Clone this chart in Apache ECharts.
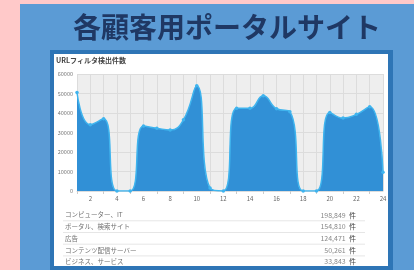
<!DOCTYPE html>
<html><head><meta charset="utf-8">
<script src="https://cdn.jsdelivr.net/npm/echarts@6/dist/echarts.min.js"></script>
<style>html,body{margin:0;padding:0;background:#ffc9c9;}#c{width:414px;height:270px;}</style>
</head><body><div id="c"></div>
<script>
const hours = ['1','2','3','4','5','6','7','8','9','10','11','12','13','14','15','16','17','18','19','20','21','22','23','24'];
const detections = [50500,34000,37000,0,0,33300,32200,31300,36500,54000,1500,0,42400,42400,48900,42200,40700,0,0,40300,37400,39300,43200,9600];
const yTicks = [0,10000,20000,30000,40000,50000,60000];
const categoryNames = ['コンピューター、IT','ポータル、検索サイト','広告','コンテンツ配信サーバー','ビジネス、サービス'];
const categoryCounts = [198849,154810,124471,50261,33843];
const pageTitle = '各顧客用ポータルサイト';
const chartTitle = 'URLフィルタ検出件数';

const chart = echarts.init(document.getElementById('c'), null, {renderer:'canvas'});
const font = '"Noto Sans CJK JP", "Noto Sans", sans-serif';

const graphics = [
  {type:'rect', z:-10, shape:{x:20,y:4,width:394,height:266}, style:{fill:'#5b9bd5'}},
  {type:'rect', z:-9, shape:{x:50,y:50,width:343,height:222}, style:{fill:'#2e75b6'}},
  {type:'rect', z:-8, shape:{x:54,y:54,width:334,height:212}, style:{fill:'#ffffff'}}
];
const rowTop = 215, rowH = 11.7;
categoryNames.forEach((name,i)=>{
  const cy = rowTop + i*rowH;
  graphics.push({type:'text', z:5, x:65, y:cy, style:{text:name, font:'6.5px '+font, fill:'#707070', verticalAlign:'middle', align:'left'}});
  graphics.push({type:'text', z:5, x:356, y:cy, style:{text:'{n|'+categoryCounts[i].toLocaleString('en-US')+'} {u|件}', verticalAlign:'middle', align:'right',
    rich:{n:{fontSize:7, fontFamily:font, fill:'#888', color:'#888'}, u:{fontSize:7, fontFamily:font, fill:'#444', color:'#444'}}}});
  if (i < categoryNames.length-1) {
    graphics.push({type:'line', z:4, shape:{x1:63,y1:cy+5.8,x2:365,y2:cy+5.8}, style:{stroke:'#e6e6e6', lineWidth:1}});
  }
});

chart.setOption({
  animation:false,
  backgroundColor:'#ffc9c9',
  graphic: graphics,
  title:[
    {text:pageTitle, left:68, top:8, textStyle:{fontSize:28, fontWeight:'bold', color:'#1f3864', fontFamily:font}},
    {text:chartTitle, left:56, top:57, textStyle:{fontSize:7, fontWeight:'bold', color:'#444', fontFamily:font}, padding:0}
  ],
  grid:{left:77, right:31, top:74, bottom:79, show:true, backgroundColor:'#eeeeee', borderWidth:0},
  xAxis:{type:'category', data:hours, boundaryGap:false,
    axisLine:{show:true, lineStyle:{color:'#dddddd', width:1}},
    axisTick:{show:true, length:3, interval:(i)=>i%2===0, lineStyle:{color:'#cccccc'}},
    axisLabel:{interval:(i)=>i%2===1, fontSize:6, color:'#666', margin:5, fontFamily:font},
    splitLine:{show:true, interval:0, lineStyle:{color:'#dcdcdc', width:1}}
  },
  yAxis:{type:'value', min:0, max:60000, interval:10000,
    axisLine:{show:false}, axisTick:{show:false},
    axisLabel:{fontSize:5.5, color:'#777', margin:4, fontFamily:font, formatter:(v)=> yTicks.includes(v) ? String(v) : ''},
    splitLine:{show:true, lineStyle:{color:'#dcdcdc', width:1}}
  },
  series:[{type:'line', data:detections, smooth:0.5, symbol:'circle', symbolSize:3.5,
    lineStyle:{color:'#3fb4ee', width:1.5},
    itemStyle:{color:'#3fb4ee'},
    areaStyle:{color:'#3190d6', opacity:1}
  }]
});
</script></body></html>
